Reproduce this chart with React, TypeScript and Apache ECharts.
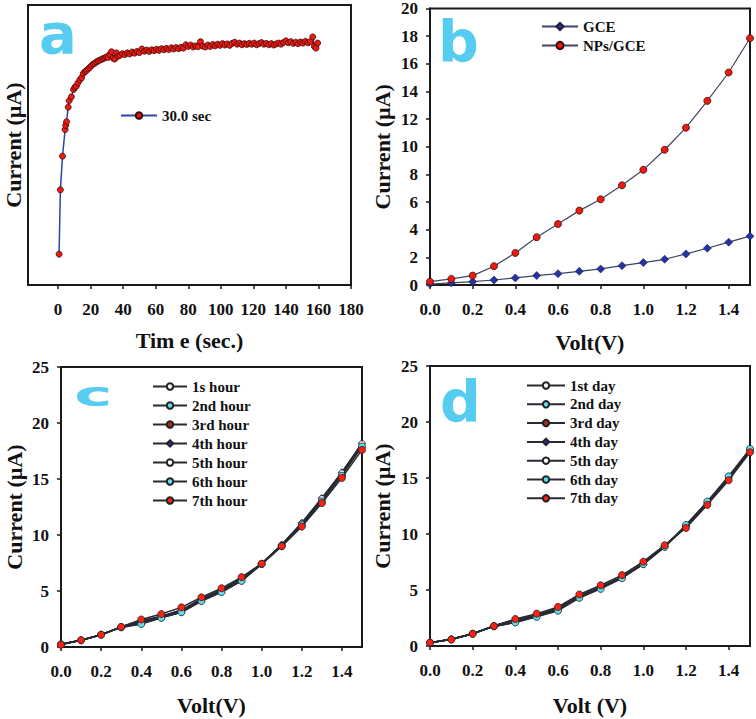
import React, { useEffect, useRef } from 'react';
import * as echarts from 'echarts';

// ---------- Panel a : chronoamperometry ----------
const timeA = [
  0.6, 1.4, 2.7, 4.3, 4.7, 5.2, 6.2, 6.8, 8.2, 9.5, 10.3, 11.2, 12.2, 13.4, 14.4, 15.4, 16.5, 17.5, 18.5, 19.5,
  20.6, 21.6, 22.6, 23.6, 24.6, 25.6, 26.8, 27.8, 28.8, 29.8, 30.8, 31.8, 32.8, 33.8, 34.8, 35.8, 36.8,
  38, 39.5, 41, 42.5, 44, 45.5, 47, 48.5, 50, 51.5, 53, 54.5, 56, 57.5, 59, 60.5, 62, 63.5, 65, 66.5,
  68, 69.5, 71, 72.5, 74, 75.5, 77, 78.5, 80, 81.5, 83, 84.5, 86, 87.5, 89, 90.5, 92, 93.5, 95, 96.5,
  98, 99.5, 101, 102.5, 104, 105.5, 107, 108.5, 110, 111.5, 113, 114.5, 116, 117.5, 119, 120.5, 122, 123.5,
  125, 126.5, 128, 129.5, 131, 132.5, 134, 135.5, 137, 138.5, 140, 141.5, 143, 144.5, 146, 147.5, 149, 150.5,
  152, 153.5, 155, 156.5, 157.5, 158.5, 159.5,
];
const currentA = [
  11.0, 34.0, 46.0, 55.5, 57.0, 58.3, 63.5, 65.8, 67.2, 69.8, 70.6, 71.0, 72.2, 73.3, 74.0, 75.5, 76.2, 76.6, 77.2, 77.7,
  78.4, 78.9, 79.2, 79.7, 80.0, 80.3, 80.6, 80.9, 81.1, 81.5, 81.3, 82.4, 83.3, 81.0, 80.7, 82.9, 81.7,
  82.0, 82.6, 82.3, 82.9, 82.5, 83.2, 82.8, 83.4, 83.0, 84.3, 83.5, 83.9, 83.4, 84.0, 83.7, 84.2, 83.8, 84.4, 84.0, 84.5,
  84.1, 84.7, 84.3, 84.8, 84.4, 84.9, 84.6, 85.8, 85.2, 85.7, 85.0, 85.4, 85.1, 86.9, 85.3, 85.0, 85.7, 85.2, 85.9, 85.4,
  86.0, 85.6, 86.2, 85.7, 86.1, 85.6, 86.3, 86.7, 86.0, 86.4, 85.8, 86.2, 85.9, 86.3, 86.0, 86.4, 85.8, 86.2,
  86.6, 86.0, 86.3, 85.8, 86.2, 85.7, 86.1, 86.4, 86.0, 86.6, 87.2, 86.5, 86.9, 86.3, 86.7, 86.2, 86.8, 86.4,
  87.0, 86.5, 86.9, 88.6, 85.2, 84.6, 86.4,
];
const legendA = '30.0 sec';

// ---------- Voltage axis shared by b, c, d ----------
const volt = [0, 0.1, 0.2, 0.3, 0.4, 0.5, 0.6, 0.7, 0.8, 0.9, 1.0, 1.1, 1.2, 1.3, 1.4, 1.5];

// ---------- Panel b ----------
const gceB = [0.07, 0.15, 0.24, 0.36, 0.51, 0.68, 0.82, 0.99, 1.16, 1.4, 1.62, 1.86, 2.25, 2.66, 3.1, 3.53];
const npsB = [0.24, 0.44, 0.68, 1.36, 2.32, 3.46, 4.41, 5.38, 6.2, 7.21, 8.33, 9.78, 11.38, 13.32, 15.37, 17.85];
const namesB = ['GCE', 'NPs/GCE'];

// ---------- Panel c ----------
const hourNames = ['1s hour', '2nd hour', '3rd hour', '4th hour', '5th hour', '6th hour', '7th hour'];
const hour1 = [0.25, 0.6, 1.1, 1.8, 2.3, 2.7, 3.3, 4.3, 5.1, 6.1, 7.45, 9.1, 11.0, 13.2, 15.5, 18.0];
const hour2 = [0.25, 0.6, 1.1, 1.75, 2.1, 2.6, 3.1, 4.1, 4.9, 5.9, 7.4, 9.05, 10.9, 13.1, 15.4, 17.9];
const hour3 = [0.25, 0.6, 1.1, 1.8, 2.35, 2.75, 3.3, 4.3, 5.15, 6.15, 7.45, 9.1, 11.0, 13.2, 15.5, 18.1];
const hour4 = [0.25, 0.6, 1.1, 1.8, 2.3, 2.7, 3.2, 4.2, 5.1, 6.1, 7.45, 9.15, 11.1, 13.3, 15.6, 18.2];
const hour5 = [0.25, 0.6, 1.1, 1.8, 2.2, 2.65, 3.15, 4.2, 5.0, 6.0, 7.4, 9.1, 11.05, 13.25, 15.55, 18.15];
const hour6 = [0.25, 0.6, 1.1, 1.75, 2.05, 2.6, 3.1, 4.1, 4.9, 5.9, 7.4, 9.0, 10.9, 13.0, 15.3, 17.9];
const hour7 = [0.2, 0.6, 1.1, 1.8, 2.46, 2.94, 3.54, 4.44, 5.25, 6.24, 7.44, 9.0, 10.75, 12.85, 15.1, 17.6];

// ---------- Panel d ----------
const dayNames = ['1st day', '2nd day', '3rd day', '4th day', '5th day', '6th day', '7th day'];
const day1 = [0.3, 0.6, 1.1, 1.8, 2.3, 2.7, 3.3, 4.4, 5.2, 6.1, 7.3, 8.9, 10.7, 12.8, 15.0, 17.5];
const day2 = [0.3, 0.6, 1.1, 1.75, 2.1, 2.65, 3.2, 4.3, 5.15, 6.1, 7.35, 8.85, 10.8, 12.85, 15.1, 17.55];
const day3 = [0.3, 0.6, 1.1, 1.8, 2.35, 2.8, 3.4, 4.5, 5.3, 6.2, 7.4, 8.95, 10.65, 12.7, 14.9, 17.4];
const day4 = [0.3, 0.6, 1.1, 1.8, 2.3, 2.7, 3.25, 4.4, 5.2, 6.15, 7.35, 8.9, 10.7, 12.75, 15.0, 17.45];
const day5 = [0.3, 0.6, 1.1, 1.8, 2.25, 2.7, 3.2, 4.35, 5.15, 6.1, 7.3, 8.85, 10.7, 12.8, 15.0, 17.5];
const day6 = [0.3, 0.6, 1.1, 1.75, 2.1, 2.6, 3.15, 4.3, 5.1, 6.05, 7.3, 8.85, 10.8, 12.9, 15.15, 17.6];
const day7 = [0.3, 0.57, 1.08, 1.78, 2.41, 2.89, 3.49, 4.6, 5.42, 6.33, 7.53, 9.0, 10.54, 12.6, 14.8, 17.3];

const xTicksA = [0, 20, 40, 60, 80, 100, 120, 140, 160, 180];

const SERIF = "'Liberation Serif', 'Times New Roman', serif";
const INK = '#111111';

const markerStyles = [
  { symbol: 'circle', size: 5, fill: '#f2f2f2' },
  { symbol: 'circle', size: 6, fill: '#5fdcee' },
  { symbol: 'circle', size: 5, fill: '#b02a1a' },
  { symbol: 'diamond', size: 7, fill: '#2a2ab0' },
  { symbol: 'circle', size: 6, fill: '#ffffff' },
  { symbol: 'circle', size: 7, fill: '#5fdcee' },
  { symbol: 'circle', size: 7, fill: '#ff2010' },
];

function pairs(xs: number[], ys: number[]) {
  return xs.map((x, i) => [x, ys[i]]);
}

const titleStyle = { fontFamily: SERIF, fontWeight: 'bold' as const, fontSize: 22, color: INK };
const labelStyle = { fontFamily: SERIF, fontWeight: 'bold' as const, fontSize: 17, color: INK };
const axisLineStyle = { onZero: false, lineStyle: { color: '#1a1a1a', width: 2 } };
const tickStyle = { show: true, length: 4, inside: false, lineStyle: { color: '#1a1a1a', width: 1.5 } };
const legendText = { fontFamily: SERIF, fontWeight: 'bold' as const, fontSize: 15, color: INK };

function voltAxis(gridIndex: number, name: string, nameGap: number) {
  return {
    gridIndex,
    type: 'value',
    min: 0,
    max: 1.5,
    interval: 0.2,
    name,
    nameLocation: 'middle',
    nameGap,
    nameTextStyle: titleStyle,
    axisLine: axisLineStyle,
    axisTick: tickStyle,
    axisLabel: {
      ...labelStyle,
      margin: 16,
      showMaxLabel: false,
      formatter: (v: number) => (v > 1.45 ? '' : v.toFixed(1)),
    },
    splitLine: { show: false },
  };
}

function currentAxis(gridIndex: number, max: number, interval: number, nameGap: number) {
  return {
    gridIndex,
    type: 'value',
    min: 0,
    max,
    interval,
    name: 'Current (µA)',
    nameLocation: 'middle',
    nameGap,
    nameTextStyle: titleStyle,
    axisLine: axisLineStyle,
    axisTick: tickStyle,
    axisLabel: { ...labelStyle, margin: 12 },
    splitLine: { show: false },
  };
}

function groupSeries(names: string[], values: number[][], axisIndex: number) {
  return names.map((name, i) => ({
    name,
    type: 'line',
    xAxisIndex: axisIndex,
    yAxisIndex: axisIndex,
    data: pairs(volt, values[i]),
    symbol: markerStyles[i].symbol,
    symbolSize: markerStyles[i].size,
    showAllSymbol: true,
    lineStyle: { color: '#262b33', width: 1.5 },
    itemStyle: { color: markerStyles[i].fill, borderColor: '#222222', borderWidth: 0.8 },
    z: 2 + i,
  }));
}

export default function App() {
  const ref = useRef<HTMLDivElement>(null);

  useEffect(() => {
    if (!ref.current) return;
    const chart = echarts.init(ref.current, undefined, { renderer: 'svg' });
    const gridBox = { show: true, borderColor: '#1a1a1a', borderWidth: 2, backgroundColor: 'transparent' };

    const letter = (text: string, x: number, y: number, fontSize: number, scaleX = 1) => ({
      type: 'text',
      x,
      y,
      scaleX,
      z: 1,
      style: {
        text,
        fontFamily: "'DejaVu Sans', 'Liberation Sans', sans-serif",
        fontWeight: 'bold',
        fontSize,
        fill: '#55ccf0',
        align: 'left',
        verticalAlign: 'middle',
        textAlign: 'left',
        textVerticalAlign: 'middle',
      },
    });

    const option: any = {
      animation: false,
      backgroundColor: '#ffffff',
      grid: [
        { left: 28, top: 5, width: 323, height: 280, ...gridBox },
        { left: 430, top: 7, width: 320, height: 278, ...gridBox },
        { left: 61, top: 367, width: 301, height: 280, ...gridBox },
        { left: 430, top: 366, width: 320, height: 280, ...gridBox },
      ],
      xAxis: [
        {
          gridIndex: 0,
          type: 'value',
          min: -18.5,
          max: 180,
          name: 'Tim e (sec.)',
          nameLocation: 'middle',
          nameGap: 44,
          nameTextStyle: titleStyle,
          axisLine: axisLineStyle,
          axisTick: { ...tickStyle, customValues: xTicksA },
          axisLabel: { ...labelStyle, margin: 16, customValues: xTicksA },
          splitLine: { show: false },
        },
        voltAxis(1, 'Volt(V)', 46),
        voltAxis(2, 'Volt(V)', 47),
        voltAxis(3, 'Volt (V)', 48),
      ],
      yAxis: [
        {
          gridIndex: 0,
          type: 'value',
          min: 0,
          max: 100,
          name: 'Current (µA)',
          nameLocation: 'middle',
          nameGap: 4,
          nameTextStyle: titleStyle,
          axisLine: axisLineStyle,
          axisTick: { show: false },
          axisLabel: { show: false },
          splitLine: { show: false },
        },
        currentAxis(1, 20, 2, 37),
        currentAxis(2, 25, 5, 36),
        currentAxis(3, 25, 5, 37),
      ],
      legend: [
        {
          data: [legendA], left: 120, top: 108, orient: 'vertical', padding: 0,
          itemWidth: 36, itemHeight: 8, itemGap: 4, textStyle: legendText, selectedMode: false,
        },
        {
          data: namesB, left: 541, top: 19, orient: 'vertical', padding: 0,
          itemWidth: 36, itemHeight: 9, itemGap: 4, textStyle: legendText, selectedMode: false,
        },
        {
          data: hourNames, left: 152, top: 379, orient: 'vertical', padding: 0,
          itemWidth: 34, itemHeight: 8, itemGap: 4, textStyle: legendText, selectedMode: false,
        },
        {
          data: dayNames, left: 526, top: 378, orient: 'vertical', padding: 0,
          itemWidth: 38, itemHeight: 8, itemGap: 3.8, textStyle: legendText, selectedMode: false,
        },
      ],
      graphic: [
        letter('a', 39, 33, 56),
        letter('b', 438, 41, 57),
        letter('c', 74, 395, 33, 1.95),
        letter('d', 440, 401, 57),
      ],
      series: [
        {
          name: legendA,
          type: 'line',
          xAxisIndex: 0,
          yAxisIndex: 0,
          data: pairs(timeA, currentA),
          symbol: 'circle',
          symbolSize: 6,
          showAllSymbol: true,
          lineStyle: { color: '#2a44a8', width: 1.5 },
          itemStyle: { color: '#ee1a12', borderColor: '#3a0a0a', borderWidth: 0.8 },
        },
        {
          name: namesB[0],
          type: 'line',
          xAxisIndex: 1,
          yAxisIndex: 1,
          data: pairs(volt, gceB),
          symbol: 'diamond',
          symbolSize: 8,
          lineStyle: { color: '#3c4660', width: 1.2 },
          itemStyle: { color: '#2433a8', borderColor: '#1a1a40', borderWidth: 0.6 },
        },
        {
          name: namesB[1],
          type: 'line',
          xAxisIndex: 1,
          yAxisIndex: 1,
          data: pairs(volt, npsB),
          symbol: 'circle',
          symbolSize: 7,
          lineStyle: { color: '#3c4660', width: 1.2 },
          itemStyle: { color: '#ee1a12', borderColor: '#3a0a0a', borderWidth: 0.8 },
        },
        ...groupSeries(hourNames, [hour1, hour2, hour3, hour4, hour5, hour6, hour7], 2),
        ...groupSeries(dayNames, [day1, day2, day3, day4, day5, day6, day7], 3),
      ],
    };

    chart.setOption(option);
    return () => {
      chart.dispose();
    };
  }, []);

  return (
    <div
      ref={ref}
      style={{ position: 'absolute', left: 0, top: 0, width: 756, height: 719, background: '#fff' }}
    />
  );
}
